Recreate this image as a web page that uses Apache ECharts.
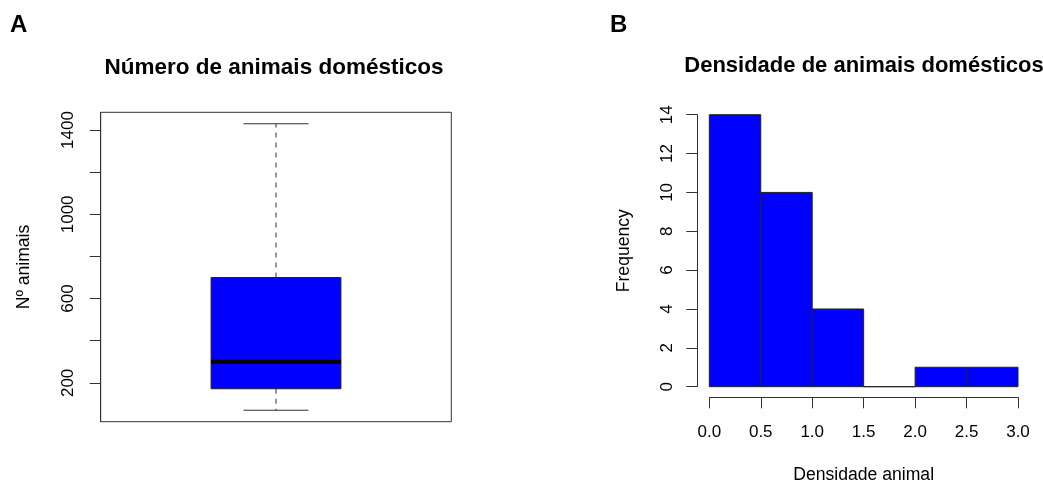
<!DOCTYPE html>
<html>
<head>
<meta charset="utf-8">
<script src="https://cdn.jsdelivr.net/npm/echarts@6/dist/echarts.min.js"></script>
<style>
  html, body { margin: 0; padding: 0; background: #fff; }
  #chart { width: 1043px; height: 482px; }
</style>
</head>
<body>
<div id="chart"></div>
<script>
// ---- Data ----
// Panel A: boxplot stats of number of domestic animals [min, Q1, median, Q3, max]
const boxStats = [70, 172, 300, 700, 1430];
const boxYTicks = [200, 400, 600, 800, 1000, 1200, 1400];
const boxYLabels = [200, 600, 1000, 1400];

// Panel B: histogram of animal density
const binEdges = [0, 0.5, 1.0, 1.5, 2.0, 2.5, 3.0];
const binCounts = [14, 10, 4, 0, 1, 1];

// ---- Chart ----
const FONT = "'Liberation Sans', Arial, sans-serif";
const LINE = '#333';
const BLUE = '#0000FF';

const bmin = boxStats[0], bmax = boxStats[4];
const span = bmax - bmin;
const yMinA = bmin - 0.04 * span;
const yMaxA = bmax + 0.04 * span;

const histData = binCounts.map((c, i) => [binEdges[i], binEdges[i + 1], c]);

const chart = echarts.init(document.getElementById('chart'), null, { renderer: 'canvas' });

const option = {
  backgroundColor: '#fff',
  animation: false,
  textStyle: { fontFamily: FONT },
  title: [
    { text: 'A', left: 10, top: 13, padding: 0, textStyle: { fontFamily: FONT, fontWeight: 'bold', fontSize: 24, color: '#000' } },
    { text: 'B', left: 610, top: 13, padding: 0, textStyle: { fontFamily: FONT, fontWeight: 'bold', fontSize: 24, color: '#000' } },
    { text: 'Número de animais domésticos', left: 269, top: 51, textAlign: 'center',
      textStyle: { fontFamily: FONT, fontWeight: 'bold', fontSize: 22.5, color: '#000' } },
    { text: 'Densidade de animais domésticos', left: 859, top: 50, textAlign: 'center',
      textStyle: { fontFamily: FONT, fontWeight: 'bold', fontSize: 22, color: '#000' } }
  ],
  grid: [
    { left: 100.7, top: 112.3, width: 350.6, height: 309.4, show: true, borderColor: LINE, borderWidth: 1,
      backgroundColor: 'transparent', containLabel: false, outerBoundsMode: 'none' },
    { left: 709.3, top: 114.7, width: 308.7, height: 272, containLabel: false, outerBoundsMode: 'none' }
  ],
  xAxis: [
    { gridIndex: 0, type: 'value', min: 0.46, max: 1.54, show: false },
    { gridIndex: 1, type: 'value', min: 0, max: 3, interval: 0.5, offset: 10.6,
      axisLine: { show: true, onZero: false, lineStyle: { color: LINE, width: 1 } },
      axisTick: { show: true, length: 11, lineStyle: { color: LINE, width: 1 } },
      axisLabel: { fontFamily: FONT, fontSize: 17, color: '#000', margin: 27, formatter: v => v.toFixed(1) },
      splitLine: { show: false },
      name: 'Densidade animal', nameLocation: 'middle', nameGap: 69,
      nameTextStyle: { fontFamily: FONT, fontSize: 17.6, color: '#000' } }
  ],
  yAxis: [
    { gridIndex: 0, type: 'value', min: yMinA, max: yMaxA,
      axisLine: { show: true, onZero: false, lineStyle: { color: LINE, width: 1 } },
      axisTick: { show: true, length: 11, customValues: boxYTicks, lineStyle: { color: LINE, width: 1 } },
      axisLabel: { fontFamily: FONT, fontSize: 17, color: '#000', rotate: 90, margin: 24, customValues: boxYLabels,
                   formatter: v => String(v) },
      splitLine: { show: false },
      name: 'Nº animais', nameLocation: 'middle', nameRotate: 90, nameGap: 68,
      nameTextStyle: { fontFamily: FONT, fontSize: 17.6, color: '#000' } },
    { gridIndex: 1, type: 'value', min: 0, max: 14, interval: 2, offset: 12,
      axisLine: { show: true, onZero: false, lineStyle: { color: LINE, width: 1 } },
      axisTick: { show: true, length: 11, lineStyle: { color: LINE, width: 1 } },
      axisLabel: { fontFamily: FONT, fontSize: 17, color: '#000', rotate: 90, margin: 21 },
      splitLine: { show: false },
      name: 'Frequency', nameLocation: 'middle', nameRotate: 90, nameGap: 64,
      nameTextStyle: { fontFamily: FONT, fontSize: 17.6, color: '#000' } }
  ],
  series: [
    {
      type: 'custom', xAxisIndex: 0, yAxisIndex: 0,
      data: [[1].concat(boxStats)],
      renderItem: function (params, api) {
        const x = api.value(0);
        const mn = api.value(1), q1 = api.value(2), md = api.value(3), q3 = api.value(4), mx = api.value(5);
        const half = 0.2, cap = 0.1;
        const p = (a, b) => api.coord([a, b]);
        const lt = p(x - half, q3), rb = p(x + half, q1);
        const dashed = { stroke: LINE, lineWidth: 1, lineDash: [5, 5] };
        const solid = { stroke: LINE, lineWidth: 1 };
        return {
          type: 'group',
          children: [
            { type: 'line', shape: { x1: p(x, q3)[0], y1: p(x, q3)[1], x2: p(x, mx)[0], y2: p(x, mx)[1] }, style: dashed },
            { type: 'line', shape: { x1: p(x, q1)[0], y1: p(x, q1)[1], x2: p(x, mn)[0], y2: p(x, mn)[1] }, style: dashed },
            { type: 'line', shape: { x1: p(x - cap, mx)[0], y1: p(x - cap, mx)[1], x2: p(x + cap, mx)[0], y2: p(x + cap, mx)[1] }, style: solid },
            { type: 'line', shape: { x1: p(x - cap, mn)[0], y1: p(x - cap, mn)[1], x2: p(x + cap, mn)[0], y2: p(x + cap, mn)[1] }, style: solid },
            { type: 'rect', shape: { x: lt[0], y: lt[1], width: rb[0] - lt[0], height: rb[1] - lt[1] },
              style: { fill: BLUE, stroke: '#222', lineWidth: 1 } },
            { type: 'line', shape: { x1: p(x - half, md)[0], y1: p(x - half, md)[1], x2: p(x + half, md)[0], y2: p(x + half, md)[1] },
              style: { stroke: '#000', lineWidth: 4 } }
          ]
        };
      }
    },
    {
      type: 'custom', xAxisIndex: 1, yAxisIndex: 1,
      data: histData,
      renderItem: function (params, api) {
        const a = api.coord([api.value(0), api.value(2)]);
        const b = api.coord([api.value(1), 0]);
        return {
          type: 'rect',
          shape: { x: a[0], y: a[1], width: b[0] - a[0], height: b[1] - a[1] },
          style: { fill: BLUE, stroke: '#222', lineWidth: 1 }
        };
      }
    }
  ]
};

chart.setOption(option);
</script>
</body>
</html>
